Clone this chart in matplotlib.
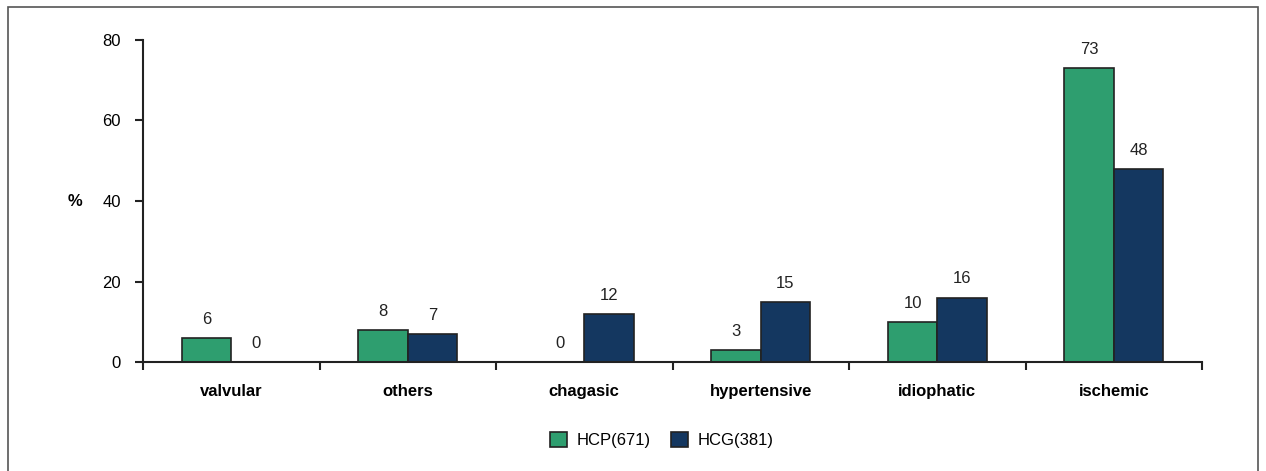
import numpy as np
import matplotlib

matplotlib.use("Agg")

import matplotlib.pyplot as plt
from matplotlib.patches import Rectangle

plt.rcParams["font.family"] = ["Liberation Sans Narrow", "Liberation Sans", "DejaVu Sans"]

categories = ["valvular", "others", "chagasic", "hypertensive", "idiophatic", "ischemic"]
hcp_values = [6, 8, 0, 3, 10, 73]
hcg_values = [0, 7, 12, 15, 16, 48]
series_labels = ["HCP(671)", "HCG(381)"]

GREEN = "#2e9e6f"
NAVY = "#143760"
EDGE = "#222222"

fig = plt.figure(figsize=(12.66, 4.71), dpi=100)
ax = fig.add_axes([143 / 1266, 1 - 362 / 471, (1202 - 143) / 1266, (362 - 40) / 471])

# frame around the whole figure
fig.patches.append(
    Rectangle((8 / 1266, -0.02), 1250 / 1266, 1.02 - 7 / 471,
              transform=fig.transFigure, fill=False, edgecolor="#555555", linewidth=1.2)
)

x = np.arange(len(categories)) + 0.5
width = 0.28

bars1 = ax.bar(x - width / 2, hcp_values, width, color=GREEN, edgecolor=EDGE,
               linewidth=1.2, label=series_labels[0])
bars2 = ax.bar(x + width / 2, hcg_values, width, color=NAVY, edgecolor=EDGE,
               linewidth=1.2, label=series_labels[1])

for bars, vals in [(bars1, hcp_values), (bars2, hcg_values)]:
    for b, v in zip(bars, vals):
        ax.annotate(f"{v}", (b.get_x() + b.get_width() / 2, v),
                    xytext=(0, 8), textcoords="offset points",
                    ha="center", va="bottom", fontsize=12, color="#222222")

ax.set_xlim(0, len(categories))
ax.set_ylim(0, 80)
ax.set_yticks([0, 20, 40, 60, 80])
ax.set_xticks(np.arange(len(categories) + 1))
ax.set_xticklabels([])
ax.set_xticks(x, minor=True)
ax.set_xticklabels(categories, minor=True, fontweight="bold", fontsize=12)
ax.tick_params(axis="x", which="minor", length=0, pad=16)
ax.tick_params(axis="x", which="major", direction="out", length=6, width=1.5, color=EDGE)
ax.tick_params(axis="y", direction="out", length=6, width=1.5, color=EDGE,
               labelsize=12, pad=10)

for side in ["top", "right"]:
    ax.spines[side].set_visible(False)
ax.spines["left"].set_linewidth(1.5)
ax.spines["bottom"].set_linewidth(1.5)
ax.spines["left"].set_color(EDGE)
ax.spines["bottom"].set_color(EDGE)

fig.text(75 / 1266, 1 - 201 / 471, "%", fontsize=12, fontweight="bold",
         ha="center", va="center")

fig.legend(handles=[bars1, bars2], labels=series_labels, loc="center",
           bbox_to_anchor=(662 / 1266, 1 - 440 / 471), ncol=2, frameon=False,
           fontsize=12, handlelength=1.0, handleheight=1.0, columnspacing=1.2,
           handletextpad=0.6)

fig.savefig("out.png", dpi=100)
